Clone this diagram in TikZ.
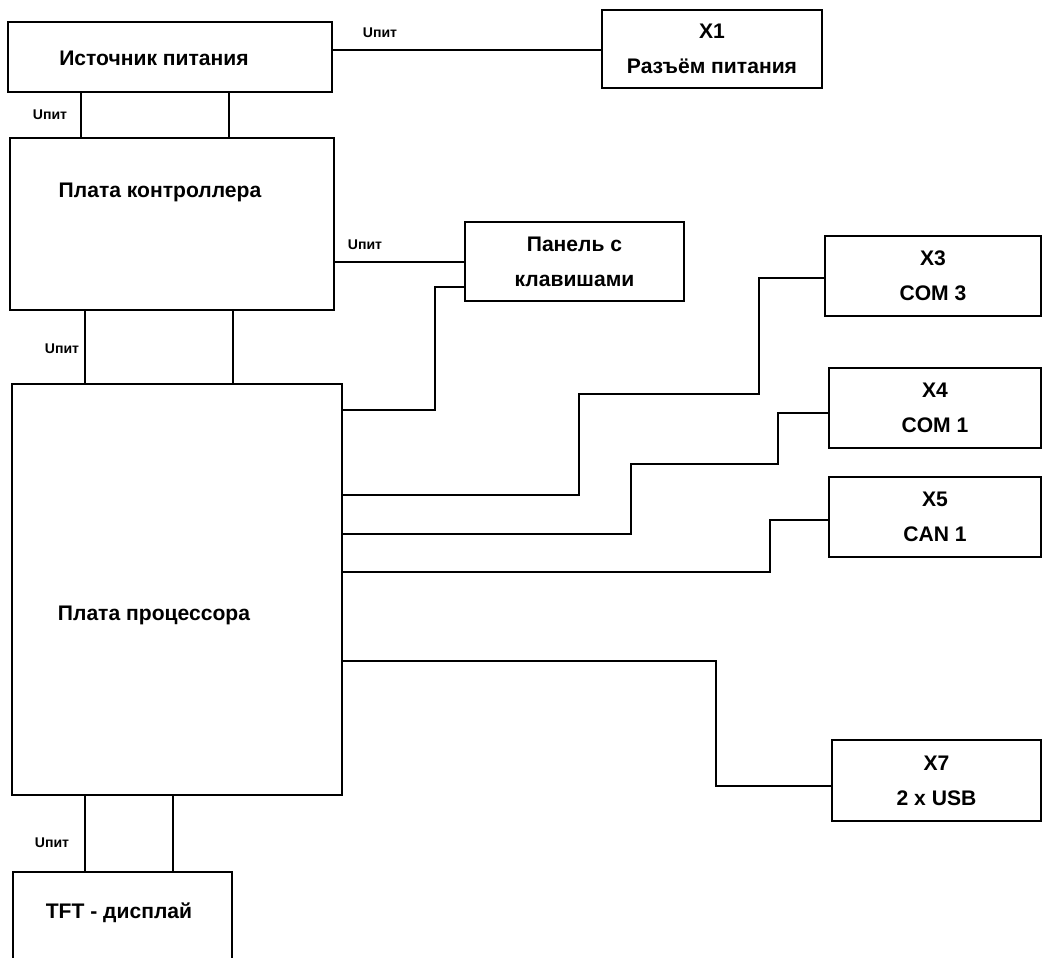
\documentclass[tikz,border=0pt]{standalone}
\usepackage{fontspec}
\setmainfont{Liberation Sans}
\usepackage{tikz}
\usetikzlibrary{positioning}

\begin{document}
\begin{tikzpicture}[
    x=0.025cm, y=-0.025cm,
    font=\fontsize{15}{25}\selectfont\bfseries,
    box/.style={draw, line width=1pt, inner sep=0pt, outer sep=0pt, align=center},
    wire/.style={draw, line width=1pt},
    volt/.style={font=\fontsize{10}{11}\selectfont\bfseries, inner sep=0pt},
]
\clip (0,0) rectangle (1042,958);
\fill[white] (0,0) rectangle (1042,958);

% --- Power supply and power connector ---
\node[box, minimum width=8.1cm, minimum height=1.75cm] (src) at (170,57) {};
\node (srctxt) at (154,58) {Источник питания};
\node[box, minimum width=5.5cm, minimum height=1.95cm] (x1) at (712,49) {X1\\Разъём питания};
\draw[wire] (src.east |- 0,50) -- (x1.west |- 0,50);
\node[volt] (u1) at (380,33) {Uпит};

% --- Controller board ---
\node[box, minimum width=8.1cm, minimum height=4.3cm] (ctrl) at (172,224) {};
\node (ctrltxt) at (160,192) {Плата контроллера};
\draw[wire] (src.south -| 81,0) -- (ctrl.north -| 81,0);
\draw[wire] (src.south -| 229,0) -- (ctrl.north -| 229,0);
\node[volt] (u2) at (50,115) {Uпит};

% --- Key panel ---
\node[box, minimum width=5.475cm, minimum height=1.975cm] (panel) at (574.5,261.5) {Панель с\\клавишами};
\draw[wire] (ctrl.east |- 0,262) -- (panel.west |- 0,262);
\node[volt] (u3) at (365,245) {Uпит};

% --- Processor board ---
\node[box, minimum width=8.25cm, minimum height=10.275cm] (proc) at (177,589.5) {};
\node (proctxt) at (154,615) {Плата процессора};
\draw[wire] (ctrl.south -| 85,0) -- (proc.north -| 85,0);
\draw[wire] (ctrl.south -| 233,0) -- (proc.north -| 233,0);
\node[volt] (u4) at (62,349) {Uпит};
\draw[wire] (panel.west |- 0,287) -| (435,410) -- (proc.east |- 0,410);

% --- Connectors X3, X4, X5, X7 ---
\node[box, minimum width=5.4cm, minimum height=2cm] (x3) at (933,276) {X3\\COM 3};
\node[box, minimum width=5.3cm, minimum height=2cm] (x4) at (935,408) {X4\\COM 1};
\node[box, minimum width=5.3cm, minimum height=2cm] (x5) at (935,517) {X5\\CAN 1};
\node[box, minimum width=5.225cm, minimum height=2.025cm] (x7) at (936.5,780.5) {X7\\2 x USB};

\draw[wire] (proc.east |- 0,495) -| (579,394) -| (759,278) -- (x3.west |- 0,278);
\draw[wire] (proc.east |- 0,534) -| (631,464) -| (778,413) -- (x4.west |- 0,413);
\draw[wire] (proc.east |- 0,572) -| (770,520) -- (x5.west |- 0,520);
\draw[wire] (proc.east |- 0,661) -| (716,786) -- (x7.west |- 0,786);

% --- TFT display (cut at the lower edge) ---
\node[box, minimum width=5.475cm, minimum height=3.2cm] (tft) at (122.5,936) {};
\node (tfttxt) at (119,913) {TFT - дисплай};
\draw[wire] (proc.south -| 85,0) -- (tft.north -| 85,0);
\draw[wire] (proc.south -| 173,0) -- (tft.north -| 173,0);
\node[volt] (u5) at (52,843) {Uпит};

\end{tikzpicture}
\end{document}
